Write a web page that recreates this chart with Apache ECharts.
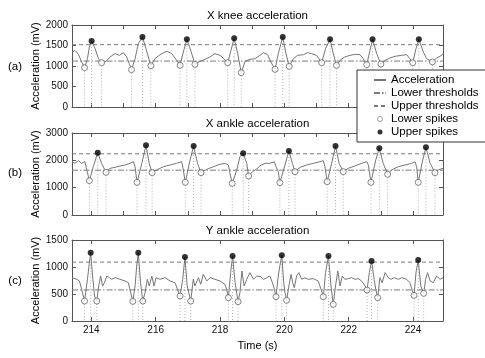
<!DOCTYPE html>
<html><head><meta charset="utf-8">
<script src="https://cdn.jsdelivr.net/npm/echarts@6/dist/echarts.min.js"></script>
<style>html,body{margin:0;padding:0;background:#fff}#c{width:485px;height:358px}</style>
</head><body><div id="c"></div>
<script>
const FONT = 'Liberation Sans, Arial, Helvetica, sans-serif';
const panelTitles = ['X knee acceleration', 'X ankle acceleration', 'Y ankle acceleration'];
const panelTags = ['(a)', '(b)', '(c)'];
const yMax = [2000, 3000, 1500];
const yInterval = [500, 1000, 500];
const xMin = 213.4, xMax = 224.93;
const xTicks1s = [214, 215, 216, 217, 218, 219, 220, 221, 222, 223, 224];
const xTicks2s = [214, 216, 218, 220, 222, 224];
const lowerThr = [1120, 1640, 575];
const upperThr = [1520, 2240, 1090];

const accA = [[213.40,1330],[213.49,1382],[213.60,1285],[213.70,1098],[213.79,959],[213.88,1179],[213.94,1463],[214.01,1610],[214.12,1423],[214.22,1179],[214.32,1081],[214.46,1114],[214.58,1220],[214.74,1301],[214.87,1260],[215.00,1325],[215.10,1220],[215.18,1057],[215.25,911],[215.36,1179],[215.46,1545],[215.59,1707],[215.70,1423],[215.85,1008],[215.98,1179],[216.11,1260],[216.24,1325],[216.36,1358],[216.50,1301],[216.63,1163],[216.76,1016],[216.86,1341],[216.97,1650],[217.09,1382],[217.22,1041],[217.38,1114],[217.53,1163],[217.69,1220],[217.84,1301],[218.00,1260],[218.12,1179],[218.24,1081],[218.34,1382],[218.44,1675],[218.55,1301],[218.66,837],[218.78,1114],[218.93,1163],[219.09,1179],[219.24,1260],[219.35,1325],[219.48,1276],[219.58,1098],[219.71,919],[219.81,1301],[219.95,1707],[220.05,1301],[220.15,992],[220.28,1179],[220.41,1260],[220.59,1276],[220.72,1325],[220.85,1301],[221.00,1260],[221.16,1081],[221.28,1423],[221.42,1650],[221.52,1301],[221.62,1016],[221.76,1163],[221.88,1220],[222.04,1260],[222.19,1285],[222.35,1276],[222.45,1179],[222.56,1033],[222.66,1382],[222.74,1650],[222.87,1301],[223.00,1049],[223.13,1138],[223.28,1195],[223.44,1236],[223.64,1260],[223.80,1276],[223.90,1179],[223.99,1081],[224.09,1423],[224.18,1650],[224.32,1341],[224.42,1179],[224.60,1100],[224.73,1195],[224.89,1260],[224.93,1300]];
const upA = [[214.01,1610],[215.59,1707],[216.97,1650],[218.44,1675],[219.95,1707],[221.42,1650],[222.74,1650],[224.18,1650]];
const lowA = [[213.79,959],[214.32,1081],[215.25,911],[215.85,1008],[216.76,1016],[217.22,1041],[218.24,1081],[218.66,837],[219.71,919],[220.15,992],[221.16,1081],[221.62,1016],[222.56,1033],[223.00,1049],[223.99,1081],[224.60,1100]];

const accB = [[213.40,1951],[213.49,1890],[213.60,1988],[213.70,1890],[213.80,1951],[213.86,1646],[213.94,1256],[214.06,1768],[214.20,2280],[214.32,1890],[214.46,1561],[214.58,1707],[214.74,1744],[214.89,1793],[215.05,1829],[215.20,1890],[215.31,1951],[215.36,1768],[215.42,1195],[215.57,1890],[215.70,2549],[215.80,1890],[215.89,1549],[216.03,1646],[216.24,1768],[216.45,1829],[216.65,1890],[216.81,1951],[216.86,1646],[216.92,1195],[217.07,2012],[217.18,2524],[217.30,1890],[217.41,1549],[217.59,1671],[217.79,1768],[218.00,1854],[218.15,1890],[218.26,1829],[218.31,1524],[218.38,1159],[218.52,1646],[218.62,2134],[218.72,2256],[218.83,1890],[218.89,1427],[219.01,1585],[219.14,1680],[219.24,1800],[219.40,1890],[219.55,1890],[219.69,1951],[219.74,1768],[219.81,1585],[219.86,1183],[220.02,1829],[220.14,2341],[220.25,1890],[220.33,1585],[220.49,1744],[220.69,1829],[220.90,1890],[221.11,1951],[221.21,1988],[221.26,1768],[221.33,1220],[221.47,1890],[221.59,2524],[221.70,1890],[221.83,1585],[221.99,1707],[222.19,1793],[222.40,1890],[222.56,1951],[222.61,1829],[222.69,1195],[222.84,2012],[222.95,2439],[223.07,1890],[223.21,1488],[223.33,1646],[223.54,1768],[223.75,1829],[223.96,1890],[224.06,1951],[224.11,1768],[224.16,1195],[224.30,2012],[224.40,2476],[224.53,1890],[224.68,1549],[224.78,1646],[224.93,1707]];
const upB = [[214.20,2280],[215.70,2549],[217.18,2524],[218.72,2256],[220.14,2341],[221.59,2524],[222.95,2439],[224.40,2476]];
const lowB = [[213.94,1256],[214.46,1561],[215.42,1195],[215.89,1549],[216.92,1195],[217.41,1549],[218.38,1159],[218.89,1427],[219.86,1183],[220.33,1585],[221.33,1220],[221.83,1585],[222.69,1195],[223.21,1488],[224.16,1195],[224.68,1549]];

const accC = [[213.40,802],[213.44,802],[213.55,772],[213.63,741],[213.70,586],[213.79,370],[213.88,772],[213.94,1080],[213.98,1265],[214.04,833],[214.10,463],[214.17,370],[214.23,648],[214.29,833],[214.35,648],[214.41,710],[214.48,833],[214.56,802],[214.63,772],[214.74,802],[214.89,772],[215.05,741],[215.15,710],[215.20,586],[215.29,364],[215.36,648],[215.41,1019],[215.46,1265],[215.53,710],[215.60,370],[215.67,525],[215.74,772],[215.80,648],[215.88,833],[215.95,648],[216.01,802],[216.13,772],[216.29,802],[216.45,741],[216.60,710],[216.70,556],[216.76,463],[216.84,772],[216.91,1185],[216.98,648],[217.09,370],[217.17,772],[217.22,648],[217.33,802],[217.40,679],[217.48,864],[217.59,741],[217.69,802],[217.84,772],[218.00,741],[218.15,679],[218.21,586],[218.26,432],[218.33,895],[218.39,1204],[218.47,710],[218.56,358],[218.62,525],[218.68,926],[218.75,648],[218.83,772],[218.93,895],[219.04,772],[219.14,833],[219.27,821],[219.35,772],[219.45,802],[219.55,833],[219.63,710],[219.69,586],[219.74,451],[219.81,833],[219.86,1019],[219.92,1216],[219.98,710],[220.02,525],[220.07,383],[220.14,648],[220.21,864],[220.26,710],[220.31,617],[220.38,833],[220.45,895],[220.54,772],[220.64,802],[220.74,772],[220.90,784],[221.05,741],[221.14,586],[221.21,451],[221.28,895],[221.37,1204],[221.45,648],[221.52,309],[221.59,648],[221.66,926],[221.73,648],[221.80,833],[221.88,772],[221.99,784],[222.09,802],[222.19,772],[222.30,784],[222.40,741],[222.51,648],[222.57,574],[222.64,895],[222.71,1111],[222.79,772],[222.84,586],[222.90,432],[222.97,802],[223.04,710],[223.13,895],[223.23,802],[223.31,772],[223.42,802],[223.54,772],[223.65,802],[223.80,772],[223.90,710],[223.98,556],[224.03,475],[224.09,895],[224.16,1130],[224.24,648],[224.33,512],[224.39,772],[224.45,895],[224.53,741],[224.63,710],[224.73,833],[224.84,772],[224.93,802]];
const upC = [[213.98,1265],[215.46,1265],[216.91,1185],[218.39,1204],[219.92,1216],[221.37,1204],[222.71,1111],[224.16,1130]];
const lowC = [[213.79,370],[214.17,370],[215.29,364],[215.60,370],[216.76,463],[217.09,370],[218.26,432],[218.56,358],[219.74,451],[220.07,383],[221.21,451],[221.52,309],[222.57,574],[222.90,432],[224.03,475],[224.33,512]];

const accs = [accA, accB, accC];
const ups = [upA, upB, upC];
const lows = [lowA, lowB, lowC];

const gridTops = [25, 133, 240];
const gridHeights = [82, 82, 81];
const AX = '#555';
const LINE = '#767676';
const THR = '#7a7a7a';

const grid = [], xAxis = [], yAxis = [], series = [], graphic = [];
for (let i = 0; i < 3; i++) {
  grid.push({left: 72, width: 371, top: gridTops[i], height: gridHeights[i], containLabel: false});
  const ticks = i === 2 ? xTicks2s : xTicks1s;
  const baseX = {
    type: 'value', gridIndex: i, min: xMin, max: xMax,
    axisLine: {show: true, onZero: false, lineStyle: {color: AX, width: 1}},
    axisTick: {show: true, inside: true, length: 4, lineStyle: {color: AX}, customValues: ticks},
    splitLine: {show: false}
  };
  xAxis.push(Object.assign({}, baseX, {
    position: 'bottom',
    axisLabel: i === 2 ? {show: true, customValues: xTicks2s, margin: 4, fontSize: 10, color: '#111', fontFamily: FONT, formatter: v => String(v)} : {show: false},
    name: i === 2 ? 'Time (s)' : '', nameLocation: 'middle', nameGap: 19, nameMoveOverlap: false,
    nameTextStyle: {fontSize: 11, color: '#000', fontFamily: FONT}
  }));
  xAxis.push(Object.assign({}, baseX, {position: 'top', axisLabel: {show: false}}));
  const baseY = {
    type: 'value', gridIndex: i, min: 0, max: yMax[i], interval: yInterval[i],
    axisLine: {show: true, onZero: false, lineStyle: {color: AX, width: 1}},
    axisTick: {show: true, inside: true, length: 4, lineStyle: {color: AX}},
    splitLine: {show: false}
  };
  yAxis.push(Object.assign({}, baseY, {
    position: 'left',
    axisLabel: {show: true, margin: 4, fontSize: 10, color: '#111', fontFamily: FONT, formatter: v => String(v)},
    name: 'Acceleration (mV)', nameLocation: 'middle', nameGap: 31, nameMoveOverlap: false,
    nameTextStyle: {fontSize: 11, color: '#000', fontFamily: FONT}
  }));
  yAxis.push(Object.assign({}, baseY, {position: 'right', axisLabel: {show: false}}));

  const xi = 2 * i, yi = 2 * i;
  series.push({
    type: 'custom', xAxisIndex: xi, yAxisIndex: yi, silent: true, z: 1,
    data: lows[i].concat(ups[i]),
    renderItem: function (params, api) {
      const a = api.coord([api.value(0), api.value(1)]);
      const b = api.coord([api.value(0), 0]);
      return {type: 'line', shape: {x1: a[0], y1: a[1], x2: b[0], y2: b[1]},
        style: {stroke: '#b0b0b0', lineWidth: 1, lineDash: [1, 2]}};
    }
  });
  series.push({
    name: 'Lower thresholds', type: 'line', xAxisIndex: xi, yAxisIndex: yi, z: 2,
    symbol: 'none', silent: true,
    data: [[xMin, lowerThr[i]], [xMax, lowerThr[i]]],
    itemStyle: {color: THR},
    lineStyle: {color: THR, width: 1, type: [6, 2, 1.5, 2]}
  });
  series.push({
    name: 'Upper thresholds', type: 'line', xAxisIndex: xi, yAxisIndex: yi, z: 2,
    symbol: 'none', silent: true,
    data: [[xMin, upperThr[i]], [xMax, upperThr[i]]],
    itemStyle: {color: THR},
    lineStyle: {color: THR, width: 1, type: [4, 3]}
  });
  series.push({
    name: 'Acceleration', type: 'line', xAxisIndex: xi, yAxisIndex: yi, z: 3,
    symbol: 'none', silent: true, data: accs[i],
    itemStyle: {color: LINE},
    lineStyle: {color: LINE, width: 1}
  });
  series.push({
    name: 'Lower spikes', type: 'scatter', xAxisIndex: xi, yAxisIndex: yi, z: 4,
    symbol: 'circle', symbolSize: 6, silent: true, data: lows[i],
    itemStyle: {color: '#ffffff', borderColor: '#666', borderWidth: 1}
  });
  series.push({
    name: 'Upper spikes', type: 'scatter', xAxisIndex: xi, yAxisIndex: yi, z: 5,
    symbol: 'circle', symbolSize: 6, silent: true, data: ups[i],
    itemStyle: {color: '#000000'}
  });

  graphic.push({type: 'text', x: 257.5, y: gridTops[i] - 9, z: 10,
    style: {text: panelTitles[i], font: '11.5px ' + FONT, fill: '#000',
      textAlign: 'center', align: 'center', textVerticalAlign: 'middle', verticalAlign: 'middle'}});
}
const tagY = [67, 173, 281];
for (let i = 0; i < 3; i++) {
  graphic.push({type: 'text', x: 15, y: tagY[i], style: {text: panelTags[i], font: '11.5px ' + FONT, fill: '#000', textAlign: 'center', align: 'center', textVerticalAlign: 'middle', verticalAlign: 'middle'}});
}

const chart = echarts.init(document.getElementById('c'), null, {renderer: 'canvas'});
chart.setOption({
  animation: false,
  backgroundColor: '#fff',
  grid, xAxis, yAxis, series, graphic,
  legend: {
    orient: 'vertical', left: 357, top: 70, z: 20,
    data: [
      {name: 'Acceleration', itemStyle: {opacity: 0}},
      {name: 'Lower thresholds', itemStyle: {opacity: 0}},
      {name: 'Upper thresholds', itemStyle: {opacity: 0}},
      {name: 'Lower spikes', itemStyle: {borderWidth: 0.8}},
      {name: 'Upper spikes'}
    ],
    backgroundColor: '#fff', borderColor: '#333', borderWidth: 1, borderRadius: 0,
    padding: [4, 7, 4, 16], itemWidth: 12, itemHeight: 5, itemGap: 1,
    selectedMode: false,
    textStyle: {fontSize: 11.5, color: '#000', fontFamily: FONT, padding: [0, 0, 0, 0]}
  }
});
</script>
</body></html>
